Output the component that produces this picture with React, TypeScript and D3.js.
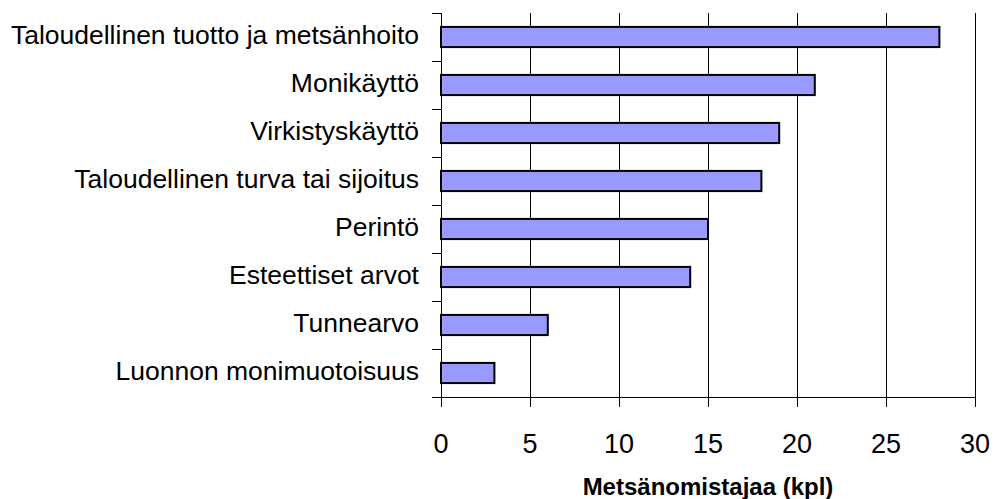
import { FC } from 'react';
import * as d3 from 'd3';

const categories = [
  'Taloudellinen tuotto ja metsänhoito',
  'Monikäyttö',
  'Virkistyskäyttö',
  'Taloudellinen turva tai sijoitus',
  'Perintö',
  'Esteettiset arvot',
  'Tunnearvo',
  'Luonnon monimuotoisuus',
];
const values = [28, 21, 19, 18, 15, 14, 6, 3];
const xTicks = [0, 5, 10, 15, 20, 25, 30];
const xTitle = 'Metsänomistajaa (kpl)';

const width = 994;
const height = 499;
const margin = { top: 13, right: 19, bottom: 102, left: 441 };
const font = 'Arial, "Liberation Sans", sans-serif';

const App: FC = () => {
  const x = d3
    .scaleLinear()
    .domain([0, 30])
    .range([margin.left, width - margin.right]);

  const y = d3
    .scaleBand()
    .domain(categories)
    .range([margin.top, height - margin.bottom])
    .paddingInner(0.58)
    .paddingOuter(0.29);

  const band = y.step();
  const top = margin.top;
  const bottom = height - margin.bottom;

  // category boundaries for the y ticks
  const boundaries = d3.range(categories.length + 1).map((i) => top + i * band);

  return (
    <svg
      width={width}
      height={height}
      style={{ position: 'absolute', left: 0, top: 0, background: '#fff' }}
      fontFamily={font}
    >
      {/* gridlines */}
      {xTicks.slice(1).map((t) => (
        <line
          key={'g' + t}
          x1={x(t)}
          x2={x(t)}
          y1={top}
          y2={bottom}
          stroke="#000"
          strokeWidth={1}
          shapeRendering="crispEdges"
        />
      ))}

      {/* bars */}
      {categories.map((c, i) => (
        <rect
          key={c}
          x={x(0)}
          y={y(c)}
          width={x(values[i]) - x(0)}
          height={y.bandwidth()}
          fill="#9999ff"
          stroke="#000"
          strokeWidth={2}
        />
      ))}

      {/* y axis */}
      <line x1={x(0)} x2={x(0)} y1={top} y2={bottom} stroke="#000" shapeRendering="crispEdges" />
      {boundaries.map((b, i) => (
        <line
          key={'yt' + i}
          x1={x(0) - 9}
          x2={x(0)}
          y1={b}
          y2={b}
          stroke="#000"
          shapeRendering="crispEdges"
        />
      ))}
      {categories.map((c) => (
        <text
          key={'l' + c}
          x={x(0) - 22}
          y={(y(c) ?? 0) + y.bandwidth() / 2 + 7}
          textAnchor="end"
          fontSize={26.5}
          fill="#000"
        >
          {c}
        </text>
      ))}

      {/* x axis */}
      <line x1={x(0) - 9} x2={x(30)} y1={bottom} y2={bottom} stroke="#000" shapeRendering="crispEdges" />
      {xTicks.map((t) => (
        <g key={'xt' + t}>
          <line
            x1={x(t)}
            x2={x(t)}
            y1={bottom}
            y2={bottom + 10}
            stroke="#000"
            shapeRendering="crispEdges"
          />
          <text x={x(t)} y={453} textAnchor="middle" fontSize={27} fill="#000">
            {t}
          </text>
        </g>
      ))}
      <text
        x={(x(0) + x(30)) / 2}
        y={495}
        textAnchor="middle"
        fontSize={24}
        fontWeight="bold"
        fill="#000"
      >
        {xTitle}
      </text>
    </svg>
  );
};

export default App;
